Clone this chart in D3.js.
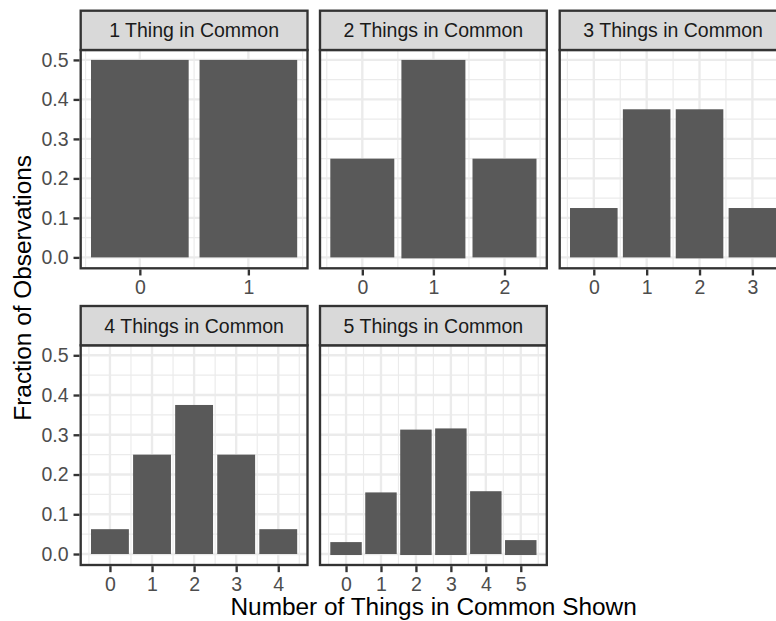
<!DOCTYPE html>
<html>
<head>
<meta charset="utf-8">
<script src="https://cdn.jsdelivr.net/npm/d3@7"></script>
<style>
  html, body { margin: 0; padding: 0; background: #ffffff; }
  svg { display: block; }
  text { font-family: "Liberation Sans", Arial, Helvetica, sans-serif; }
</style>
</head>
<body>
<svg id="chart" width="776" height="621"></svg>
<script>
// ---- data ----
const panelTitles = ["1 Thing in Common", "2 Things in Common", "3 Things in Common", "4 Things in Common", "5 Things in Common"];
const shownCounts = [[0, 1], [0, 1, 2], [0, 1, 2, 3], [0, 1, 2, 3, 4], [0, 1, 2, 3, 4, 5]];
const fractions = [
  [0.5, 0.5],
  [0.25, 0.5, 0.25],
  [0.125, 0.375, 0.375, 0.125],
  [0.0625, 0.25, 0.375, 0.25, 0.0625],
  [0.030, 0.155, 0.313, 0.316, 0.158, 0.035]
];
const belowZero = [
  [0, 0],
  [0, -0.0025, 0],
  [0, 0, -0.0025, 0],
  [0, 0, 0, 0, 0],
  [-0.0025, 0, -0.0025, -0.0025, 0, -0.0025]
];
const yTicks = [0, 0.1, 0.2, 0.3, 0.4, 0.5];
const yMinorTicks = [0.05, 0.15, 0.25, 0.35, 0.45];
const yTickLabels = ["0.0", "0.1", "0.2", "0.3", "0.4", "0.5"];
const xTitle = "Number of Things in Common Shown";
const yTitle = "Fraction of Observations";

// ---- layout ----
const colX = [80.7, 320, 559.7];
const panelW = 226.8;
const rows = [
  { stripTop: 10.7, panelTop: 50, panelBottom: 268.3 },
  { stripTop: 306, panelTop: 345.3, panelBottom: 565 }
];
const ncol = 3;
const lw = 2.35;
const fs = 19.5;

const svg = d3.select("#chart");

const allLow = d3.min(belowZero.flat().concat([0]));
const allHigh = d3.max(fractions.flat());
const yPad = (allHigh - allLow) * 0.05;
const yDomain = [allLow - yPad, allHigh + yPad];

panelTitles.forEach((title, i) => {
  const r = rows[Math.floor(i / ncol)];
  const x0 = colX[i % ncol];
  const cats = shownCounts[i];
  const n = cats.length;
  const lo = -0.45, hi = (n - 1) + 0.45;
  const xPad = (hi - lo) * 0.05;
  const x = d3.scaleLinear().domain([lo - xPad, hi + xPad]).range([x0, x0 + panelW]);
  const y = d3.scaleLinear().domain(yDomain).range([r.panelBottom, r.panelTop]);

  const g = svg.append("g");
  // panel background
  g.append("rect").attr("x", x0).attr("y", r.panelTop).attr("width", panelW)
    .attr("height", r.panelBottom - r.panelTop).attr("fill", "#ffffff");

  const grid = g.append("g");
  const xMinor = d3.range(-0.5, n, 1);
  // minor grid
  grid.selectAll(".ymin").data(yMinorTicks).join("line")
    .attr("x1", x0).attr("x2", x0 + panelW)
    .attr("y1", d => y(d)).attr("y2", d => y(d))
    .attr("stroke", "#EBEBEB").attr("stroke-width", lw / 2);
  grid.selectAll(".xmin").data(xMinor).join("line")
    .attr("x1", d => x(d)).attr("x2", d => x(d))
    .attr("y1", r.panelTop).attr("y2", r.panelBottom)
    .attr("stroke", "#EBEBEB").attr("stroke-width", lw / 2);
  // major grid
  grid.selectAll(".ymaj").data(yTicks).join("line")
    .attr("x1", x0).attr("x2", x0 + panelW)
    .attr("y1", d => y(d)).attr("y2", d => y(d))
    .attr("stroke", "#EBEBEB").attr("stroke-width", lw);
  grid.selectAll(".xmaj").data(cats).join("line")
    .attr("x1", d => x(d)).attr("x2", d => x(d))
    .attr("y1", r.panelTop).attr("y2", r.panelBottom)
    .attr("stroke", "#EBEBEB").attr("stroke-width", lw);

  // bars
  const bars = cats.map((c, j) => ({ c, v: fractions[i][j], low: belowZero[i][j] }));
  g.selectAll(".bar").data(bars).join("rect")
    .attr("x", d => x(d.c - 0.45))
    .attr("width", d => x(d.c + 0.45) - x(d.c - 0.45))
    .attr("y", d => y(d.v))
    .attr("height", d => y(d.low) - y(d.v))
    .attr("fill", "#595959");

  // panel border
  g.append("rect").attr("x", x0).attr("y", r.panelTop).attr("width", panelW)
    .attr("height", r.panelBottom - r.panelTop)
    .attr("fill", "none").attr("stroke", "#333333").attr("stroke-width", lw);

  // strip
  g.append("rect").attr("x", x0).attr("y", r.stripTop).attr("width", panelW)
    .attr("height", r.panelTop - r.stripTop)
    .attr("fill", "#D9D9D9").attr("stroke", "#333333").attr("stroke-width", lw);
  g.append("text").attr("x", x0 + panelW / 2).attr("y", (r.stripTop + r.panelTop) / 2 + 7)
    .attr("text-anchor", "middle").attr("font-size", fs).attr("fill", "#1A1A1A")
    .text(title);

  // x axis
  const xa = g.append("g").attr("transform", `translate(0,${r.panelBottom + lw / 2})`)
    .call(d3.axisBottom(x).tickValues(cats).tickFormat(d3.format("d")).tickSize(6).tickPadding(5));
  xa.select(".domain").remove();
  xa.selectAll(".tick line").attr("stroke", "#333333").attr("stroke-width", lw);
  xa.selectAll(".tick text").attr("font-size", fs).attr("fill", "#4D4D4D")
    .attr("font-family", "Liberation Sans, Arial, sans-serif");

  // y axis on left column
  if (i % ncol === 0) {
    const ya = g.append("g").attr("transform", `translate(${x0 - lw / 2},0)`)
      .call(d3.axisLeft(y).tickValues(yTicks).tickFormat((d, k) => yTickLabels[k]).tickSize(6).tickPadding(5));
    ya.select(".domain").remove();
    ya.selectAll(".tick line").attr("stroke", "#333333").attr("stroke-width", lw);
    ya.selectAll(".tick text").attr("font-size", fs).attr("fill", "#4D4D4D")
      .attr("font-family", "Liberation Sans, Arial, sans-serif");
  }
});

// axis titles
const plotLeft = colX[0], plotRight = colX[2] + panelW;
svg.append("text").attr("x", (plotLeft + plotRight) / 2).attr("y", 615)
  .attr("text-anchor", "middle").attr("font-size", 24.4).attr("fill", "#000000")
  .text(xTitle);
svg.append("text")
  .attr("transform", `translate(31,${(rows[0].stripTop + rows[1].panelBottom) / 2}) rotate(-90)`)
  .attr("text-anchor", "middle").attr("font-size", 24.4).attr("fill", "#000000")
  .text(yTitle);
</script>
</body>
</html>
